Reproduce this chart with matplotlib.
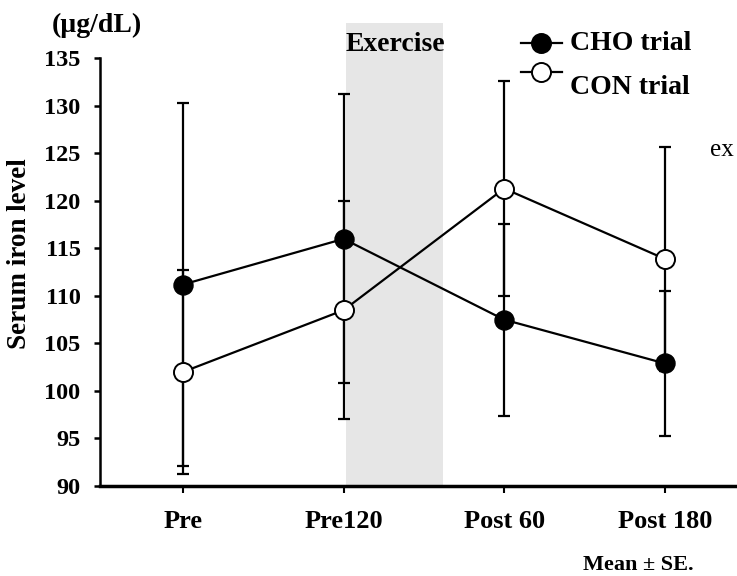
import matplotlib
matplotlib.use("Agg")
import matplotlib.pyplot as plt
from matplotlib.patches import Rectangle
from matplotlib.lines import Line2D

categories = ["Pre", "Pre120", "Post 60", "Post 180"]
cho_mean = [111.2, 116.0, 107.5, 102.9]
cho_se = [19.1, 15.2, 10.1, 7.6]
con_mean = [102.0, 108.5, 121.3, 113.9]
con_se = [10.7, 11.5, 11.3, 11.8]
yticks = [90, 95, 100, 105, 110, 115, 120, 125, 130, 135]

plt.rcParams['font.family'] = ['Liberation Serif', 'DejaVu Serif']
plt.rcParams['font.weight'] = 'bold'

fig = plt.figure(figsize=(7.37, 5.76), dpi=100)
ax = fig.add_axes([100/737, 1 - 486/576, 1 - 100/737, (486 - 58.3)/576])

x = list(range(len(categories)))

# exercise shading (between Pre120 and Post 60)
ax.add_patch(Rectangle((1.015, 90), 0.605, 48.7, facecolor='#e6e6e6',
                       edgecolor='none', clip_on=False, zorder=0))
ax.text(1.32, 136.5, "Exercise", ha='center', va='center', fontsize=20,
        fontweight='bold', zorder=5)

ax.errorbar(x, cho_mean, yerr=cho_se, fmt='none', ecolor='black',
            elinewidth=1.6, capsize=4, capthick=1.6, zorder=2, clip_on=False)
ax.errorbar(x, con_mean, yerr=con_se, fmt='none', ecolor='black',
            elinewidth=1.6, capsize=4, capthick=1.6, zorder=2, clip_on=False)
ax.plot(x, cho_mean, '-o', color='black', lw=1.6, markersize=13.7,
        markerfacecolor='black', markeredgecolor='black', zorder=4, clip_on=False)
ax.plot(x, con_mean, '-o', color='black', lw=1.6, markersize=13.7,
        markerfacecolor='white', markeredgecolor='black', markeredgewidth=1.4,
        zorder=4, clip_on=False)

ax.set_xlim(-0.517, 3.45)
ax.set_ylim(90, 135)
ax.set_yticks(yticks)
ax.set_yticklabels([str(v) for v in yticks], fontsize=17.5, fontweight='bold')
ax.set_xticks(x)
ax.set_xticklabels(categories, fontsize=19, fontweight='bold')
ax.tick_params(axis='y', direction='out', length=4, width=1.8, pad=10)
ax.tick_params(axis='x', direction='out', length=5, width=1.5, pad=12)
ax.spines['top'].set_visible(False)
ax.spines['right'].set_visible(False)
ax.spines['left'].set_linewidth(1.8)
ax.spines['bottom'].set_linewidth(2.5)

fig.text(20/737, 1 - 254/576, "Serum iron level", rotation=90, ha='center',
         va='center', fontsize=19.5, fontweight='bold')
fig.text(97/737, 1 - 25/576, "(\u00b5g/dL)", ha='center', va='center',
         fontsize=20, fontweight='bold')
fig.text(638/737, 1 - 565/576, "Mean \u00b1 SE.", ha='center', va='center',
         fontsize=16, fontweight='bold')
fig.text(734/737, 1 - 150/576, "ex", ha='right', va='center',
         fontsize=18, fontweight='normal')

# legend handles drawn manually
for yy, fc, label, ty in [(43, 'black', "CHO trial", 44), (72, 'white', "CON trial", 87)]:
    fig.add_artist(Line2D([521/737, 562/737], [1 - yy/576, 1 - yy/576], color='black',
                          lw=1.6, marker=None))
    fig.add_artist(Line2D([541/737], [1 - yy/576], marker='o', markersize=13.7,
                          markerfacecolor=fc, markeredgecolor='black',
                          markeredgewidth=1.4, lw=0))
    fig.text(570/737, 1 - ty/576, label, ha='left', va='center', fontsize=20,
             fontweight='bold')

fig.savefig("out.png", dpi=100)
